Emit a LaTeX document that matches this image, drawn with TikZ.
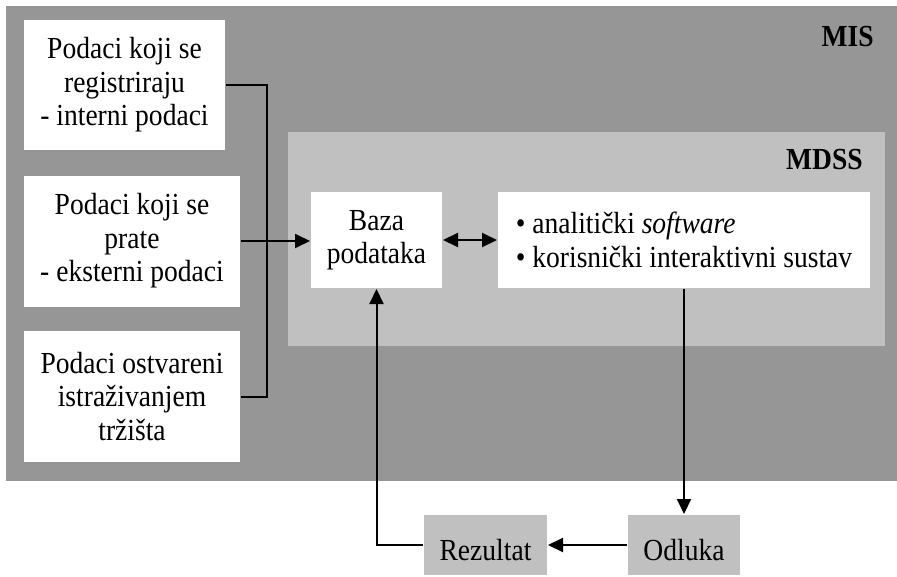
\documentclass[tikz,border=0pt]{standalone}
\usepackage{fontspec}
\setmainfont{Liberation Serif}[FakeStretch=0.9]
\usetikzlibrary{arrows.meta}
\definecolor{misgray}{RGB}{150,150,150}
\definecolor{mdssgray}{RGB}{192,192,192}

\begin{document}
\begin{tikzpicture}[x=1pt,y=-1pt,
   box/.style={fill=white,inner sep=0pt,align=center,execute at begin node={\rule{0pt}{31pt}}},
   outbox/.style={box,fill=mdssgray},
   tip/.tip={Triangle[length=15pt,width=14pt]},
   arr/.style={-tip},
   every node/.style={font=\fontsize{30.6}{33.5}\selectfont},
   line width=2pt]
   \useasboundingbox (0,0) rectangle (897,576);
   \fill[misgray] (6,6) rectangle (897,481);
   \fill[mdssgray] (288,132) rectangle (885,346);
   \node[anchor=base east,font=\fontsize{30.6}{33.5}\selectfont\bfseries] (mis) at (878,46) {MIS};
   \node[anchor=base east,font=\fontsize{30.6}{33.5}\selectfont\bfseries] (mdss) at (867,169) {MDSS};
   % izvori podataka
   \node[box,minimum width=201pt,minimum height=130pt] (interni) at (124.5,85) {Podaci koji se\\registriraju\\- interni podaci};
   \node[box,minimum width=216pt,minimum height=131pt] (eksterni) at (132,241) {Podaci koji se\\prate\\- eksterni podaci};
   \node[box,minimum width=216pt,minimum height=131pt] (trziste) at (132,396.5) {Podaci ostvareni\\istraživanjem\\tržišta};
   % MDSS
   \node[box,minimum width=131pt,minimum height=96pt] (baza) at (376.5,240) {Baza\\podataka};
   \node[box,align=left,minimum width=372pt,minimum height=96pt] (software) at (684,240) {• analitički \textit{software}\\• korisnički interaktivni sustav};
   % izlaz
   \node[outbox,minimum width=112pt,minimum height=60pt] (odluka) at (684,545) {Odluka};
   \node[outbox,minimum width=123pt,minimum height=60pt] (rezultat) at (485.5,545) {Rezultat};
   \coordinate (bus) at (267,241);
   \draw (interni.east) -| (bus) |- (trziste.east);
   \draw[arr] (eksterni.east) -- (eksterni.east -| baza.west);
   \draw[tip-tip] (baza.east) -- (software.west);
   \draw[arr] (software.south) -- (odluka.north);
   \draw[arr] (odluka.west) -- (rezultat.east);
   \draw[arr] (rezultat.west) -| (baza.south);
\end{tikzpicture}
\end{document}
